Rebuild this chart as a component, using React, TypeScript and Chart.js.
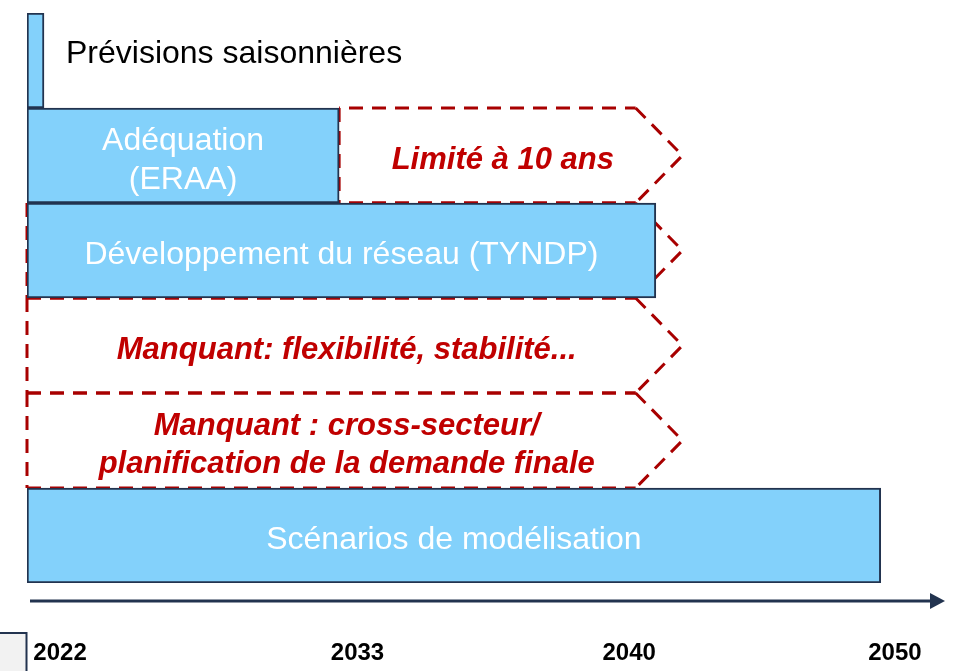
import React, { useEffect, useRef } from 'react';
import { Chart, registerables } from 'chart.js';

Chart.register(...registerables);

// Rows of the diagram, top to bottom
const rows = ['Prévisions', 'Adéquation', 'TYNDP', 'Flexibilité', 'Cross-secteur', 'Scénarios'];

// Position along the timeline arrow, in % of its length (0 = start of 2022, 100 = arrow tip)
const barRanges: ([number, number] | null)[] = [[0, 1.85], [0, 34.0], [0, 68.5], null, null, [0, 93.0]];
const barLabels = [
  'Prévisions saisonnières',
  'Adéquation\n(ERAA)',
  'Développement du réseau (TYNDP)',
  '',
  '',
  'Scénarios de modélisation',
];

// Missing / limited horizons (dashed chevrons)
const gapRanges: ([number, number] | null)[] = [null, [34.0, 71.4], [0, 71.4], [0, 71.4], [0, 71.4], null];
const gapLabels = [
  '',
  'Limité à 10 ans',
  '',
  'Manquant: flexibilité, stabilité...',
  'Manquant : cross-secteur/\nplanification de la demande finale',
  '',
];
const chevronDepth = 5.1;

// Timeline tick labels
const yearLabels = ['2022', '2033', '2040', '2050'];
const yearPositions = [3.6, 36.0, 65.6, 94.55];

const FONT = '"Liberation Sans", Arial, Helvetica, sans-serif';
const FILL = '#83D1FB';
const NAVY = '#22334F';
const DASH = '#A80000';
const RED_TEXT = '#C00000';

const diagramPlugin = {
  id: 'diagram',
  afterDatasetDraw(chart: any, args: any) {
    if (args.index !== 1) return;
    const ctx = chart.ctx;
    const xs = chart.scales.x;
    const left = chart.chartArea.left;
    const depth = xs.getPixelForValue(chevronDepth) - xs.getPixelForValue(0);
    ctx.save();
    ctx.strokeStyle = DASH;
    ctx.lineWidth = 3;
    ctx.setLineDash([14, 9]);
    const seg = (pts: number[][], offset: number) => {
      ctx.lineDashOffset = offset;
      ctx.beginPath();
      ctx.moveTo(pts[0][0], pts[0][1]);
      for (let k = 1; k < pts.length; k++) ctx.lineTo(pts[k][0], pts[k][1]);
      ctx.stroke();
    };
    args.meta.data.forEach((el: any, i: number) => {
      if (!gapRanges[i]) return;
      const { x, y, base, height } = el.getProps(['x', 'y', 'base', 'height'], true);
      const top = y - height / 2;
      const bottom = y + height / 2;
      // horizontal edges share an absolute dash phase so coincident edges overlap cleanly
      seg([[base, top], [x - depth, top]], base - left);
      seg([[base, bottom], [x - depth, bottom]], base - left);
      seg([[base, top], [base, bottom]], 0);
      seg([[x - depth, top], [x, y], [x - depth, bottom]], 0);
    });
    ctx.restore();
  },
  afterDatasetsDraw(chart: any) {
    const ctx = chart.ctx;
    ctx.save();
    ctx.textBaseline = 'middle';
    // Bar labels
    const barMeta = chart.getDatasetMeta(0);
    ctx.font = `32px ${FONT}`;
    barMeta.data.forEach((el: any, i: number) => {
      const label = barLabels[i];
      if (!label || !barRanges[i]) return;
      const { x, y, base } = el.getProps(['x', 'y', 'base'], true);
      const lines = label.split('\n');
      const lh = 39;
      const w = Math.max(...lines.map((l: string) => ctx.measureText(l).width));
      const inside = w + 20 < x - base;
      lines.forEach((l: string, k: number) => {
        const ly = y + (k - (lines.length - 1) / 2) * lh;
        if (inside) {
          ctx.fillStyle = '#FFFFFF';
          ctx.textAlign = 'center';
          ctx.fillText(l, (base + x) / 2, ly + 5);
        } else {
          ctx.fillStyle = '#000000';
          ctx.textAlign = 'left';
          ctx.fillText(l, x + 22, ly - 6);
        }
      });
    });
    // Chevron labels
    const gapMeta = chart.getDatasetMeta(1);
    ctx.font = `italic bold 31px ${FONT}`;
    ctx.fillStyle = RED_TEXT;
    ctx.textAlign = 'center';
    gapMeta.data.forEach((el: any, i: number) => {
      const label = gapLabels[i];
      if (!label || !gapRanges[i]) return;
      const { x, y, base } = el.getProps(['x', 'y', 'base'], true);
      const lines = label.split('\n');
      const lh = 38;
      lines.forEach((l: string, k: number) => {
        const ly = y + (k - (lines.length - 1) / 2) * lh;
        ctx.fillText(l, (base + x) / 2 - 8, ly + 5);
      });
    });
    ctx.restore();
  },
  afterDraw(chart: any) {
    const ctx = chart.ctx;
    const xs = chart.scales.x;
    const area = chart.chartArea;
    const y = area.bottom + 18;
    const x0 = xs.getPixelForValue(0) + 3;
    const x1 = xs.getPixelForValue(100);
    ctx.save();
    // timeline arrow
    ctx.strokeStyle = NAVY;
    ctx.fillStyle = NAVY;
    ctx.lineWidth = 3;
    ctx.beginPath();
    ctx.moveTo(x0, y);
    ctx.lineTo(x1 - 12, y);
    ctx.stroke();
    ctx.beginPath();
    ctx.moveTo(x1 - 15, y - 8);
    ctx.lineTo(x1, y);
    ctx.lineTo(x1 - 15, y + 8);
    ctx.closePath();
    ctx.fill();
    // year tick labels, positioned by the x scale
    ctx.fillStyle = '#000000';
    ctx.font = `bold 24px ${FONT}`;
    ctx.textAlign = 'center';
    ctx.textBaseline = 'alphabetic';
    yearLabels.forEach((lab, i) => {
      ctx.fillText(lab, xs.getPixelForValue(yearPositions[i]), area.bottom + 77);
    });
    // corner fragment at bottom-left
    const cy = area.bottom + 50;
    ctx.fillStyle = '#F2F2F2';
    ctx.fillRect(0, cy, area.left - 1, chart.height - cy);
    ctx.lineWidth = 2;
    ctx.beginPath();
    ctx.moveTo(0, cy);
    ctx.lineTo(area.left - 0.5, cy);
    ctx.lineTo(area.left - 0.5, chart.height);
    ctx.stroke();
    ctx.restore();
  },
};

export default function App() {
  const canvasRef = useRef<HTMLCanvasElement | null>(null);

  useEffect(() => {
    const canvas = canvasRef.current;
    if (!canvas) return;
    const chart = new Chart(canvas, {
      type: 'bar',
      data: {
        labels: rows,
        datasets: [
          {
            label: 'Horizon couvert',
            data: barRanges as any,
            backgroundColor: FILL,
            borderColor: NAVY,
            borderWidth: 2,
            borderSkipped: false,
            barPercentage: 1,
            categoryPercentage: 1,
            grouped: false,
            order: 1,
          },
          {
            label: 'Manques',
            data: gapRanges as any,
            backgroundColor: 'rgba(0,0,0,0)',
            borderWidth: 0,
            barPercentage: 1,
            categoryPercentage: 1,
            grouped: false,
            order: 2,
          },
        ],
      },
      options: {
        indexAxis: 'y',
        responsive: false,
        maintainAspectRatio: false,
        animation: false,
        layout: { padding: { left: 27, right: 16, top: 13, bottom: 88 } },
        plugins: {
          legend: { display: false },
          tooltip: { enabled: false },
        },
        scales: {
          x: {
            type: 'linear',
            display: false,
            min: 0,
            max: 100,
          },
          y: {
            display: false,
            grid: { display: false },
          },
        },
      },
      plugins: [diagramPlugin],
    } as any);
    return () => chart.destroy();
  }, []);

  return (
    <div style={{ position: 'fixed', left: 0, top: 0, width: 961, height: 671, background: '#FFFFFF' }}>
      <canvas ref={canvasRef} width={961} height={671} style={{ display: 'block' }} />
    </div>
  );
}
